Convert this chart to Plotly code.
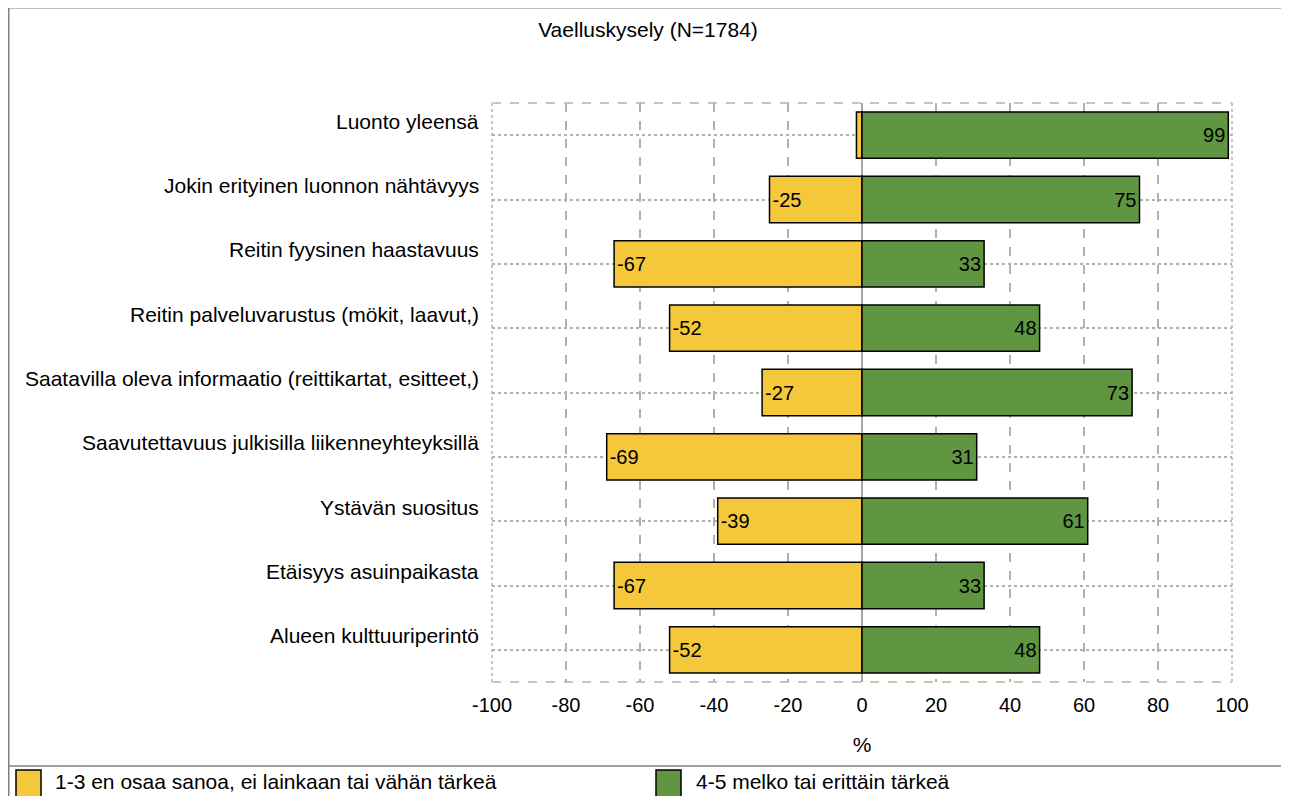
import plotly.graph_objects as go

categories = [
    "Luonto yleensä",
    "Jokin erityinen luonnon nähtävyys",
    "Reitin fyysinen haastavuus",
    "Reitin palveluvarustus (mökit, laavut,)",
    "Saatavilla oleva informaatio (reittikartat, esitteet,)",
    "Saavutettavuus julkisilla liikenneyhteyksillä",
    "Ystävän suositus",
    "Etäisyys asuinpaikasta",
    "Alueen kulttuuriperintö",
]
low_values = [-1.5, -25, -67, -52, -27, -69, -39, -67, -52]
high_values = [99, 75, 33, 48, 73, 31, 61, 33, 48]
series_names = ["1-3 en osaa sanoa, ei lainkaan tai vähän tärkeä", "4-5 melko tai erittäin tärkeä"]
x_ticks = [-100, -80, -60, -40, -20, 0, 20, 40, 60, 80, 100]
title_text = "Vaelluskysely (N=1784)"
x_title = "%"

YELLOW = "#F5C83B"
GREEN = "#609641"
GRID = "#B5B1A5"
FRAME = "#808080"
FONT = "Liberation Sans, Arial, sans-serif"
FS = 20     # numbers
FT = 21     # texts

# page offset (body margin) and figure size
OFF = 8
W, H = 1289 - OFF, 796 - OFF
# plot area in screen pixels
SX0, SX1, SY0, SY1 = 492, 1232, 103, 682
L, R, T, B = SX0 - OFF, (W + OFF) - SX1, SY0 - OFF, (H + OFF) - SY1
PW, PH = W - L - R, H - T - B


def px(xs):
    return (xs - SX0) / PW


def py(ys):
    return (SY1 - ys) / PH


fig = go.Figure()
for vals, name, col in [(low_values, series_names[0], YELLOW), (high_values, series_names[1], GREEN)]:
    fig.add_trace(go.Bar(
        y=categories, x=vals, orientation="h", name=name,
        marker=dict(color=col, line=dict(color="black", width=1.5)),
        width=0.72, text=[f"{v:g}" for v in vals], texttemplate="%{text}", textposition="inside",
        insidetextanchor="end", textangle=0,
        insidetextfont=dict(color="black", size=FS, family=FONT),
        showlegend=False, cliponaxis=False, hoverinfo="x+y",
    ))

shapes = []
# plot border: dashed top/bottom, dotted left/right
for yv in (1, 0):
    shapes.append(dict(type="line", xref="paper", yref="paper", x0=0, x1=1, y0=yv, y1=yv,
                       line=dict(color=GRID, width=1.5, dash="dash"), layer="between"))
for xv in (0, 1):
    shapes.append(dict(type="line", xref="paper", yref="paper", x0=xv, x1=xv, y0=0, y1=1,
                       line=dict(color="white", width=3), layer="between"))
    shapes.append(dict(type="line", xref="paper", yref="paper", x0=xv, x1=xv, y0=0, y1=1,
                       line=dict(color=GRID, width=1.5, dash="dot"), layer="between"))
# outer frame
shapes.append(dict(type="line", xref="paper", yref="paper", x0=px(7), x1=px(1300), y0=py(7.5), y1=py(7.5),
                   line=dict(color=FRAME, width=2)))
shapes.append(dict(type="line", xref="paper", yref="paper", x0=px(8.5), x1=px(8.5), y0=py(7), y1=py(810),
                   line=dict(color=FRAME, width=2)))
shapes.append(dict(type="line", xref="paper", yref="paper", x0=px(8), x1=px(1300), y0=py(766), y1=py(766),
                   line=dict(color=FRAME, width=1.5)))
# legend keys
for (x0, x1), col in [((16, 41), YELLOW), ((656, 681), GREEN)]:
    shapes.append(dict(type="rect", xref="paper", yref="paper", x0=px(x0), x1=px(x1), y0=py(770), y1=py(810),
                       fillcolor=col, line=dict(color="black", width=1.5)))

annotations = []
for c in categories:
    annotations.append(dict(xref="x", yref="y", x=-100, y=c, text=c, showarrow=False,
                            xanchor="right", yanchor="middle", xshift=-11, yshift=14,
                            font=dict(size=FT, family=FONT, color="black")))
for xl, name in [(53, series_names[0]), (694, series_names[1])]:
    annotations.append(dict(xref="paper", yref="paper", x=px(xl), y=py(781), text=name, showarrow=False,
                            xanchor="left", yanchor="middle",
                            font=dict(size=FT, family=FONT, color="black")))

fig.update_layout(
    width=W, height=H,
    margin=dict(l=L, r=R, t=T, b=B, autoexpand=False),
    paper_bgcolor="white", plot_bgcolor="white",
    barmode="relative",
    font=dict(family=FONT, size=FS, color="black"),
    title=dict(text=title_text, x=(648 - OFF) / W, xref="container", xanchor="center",
               y=1 - (30 - OFF) / H, yref="container", yanchor="middle",
               font=dict(size=FT, family=FONT, color="black")),
    uniformtext=dict(minsize=FS, mode="hide"),
    shapes=shapes, annotations=annotations,
    xaxis=dict(range=[-100, 100], tickvals=x_ticks, ticktext=[str(t) for t in x_ticks],
               showgrid=True, gridcolor=GRID, gridwidth=1.5, griddash="dash",
               zeroline=True, zerolinecolor="#A9A599", zerolinewidth=1.5,
               showline=False, ticks="", ticklabelstandoff=9,
               tickfont=dict(size=FS, family=FONT, color="black"),
               title=dict(text=x_title, standoff=22, font=dict(size=FT, family=FONT))),
    yaxis=dict(categoryorder="array", categoryarray=categories, range=[len(categories) - 0.5, -0.5],
               showgrid=True, gridcolor=GRID, gridwidth=1.5, griddash="dot",
               showticklabels=False, ticks="", zeroline=False, showline=False),
)

fig.write_html("out.html")
